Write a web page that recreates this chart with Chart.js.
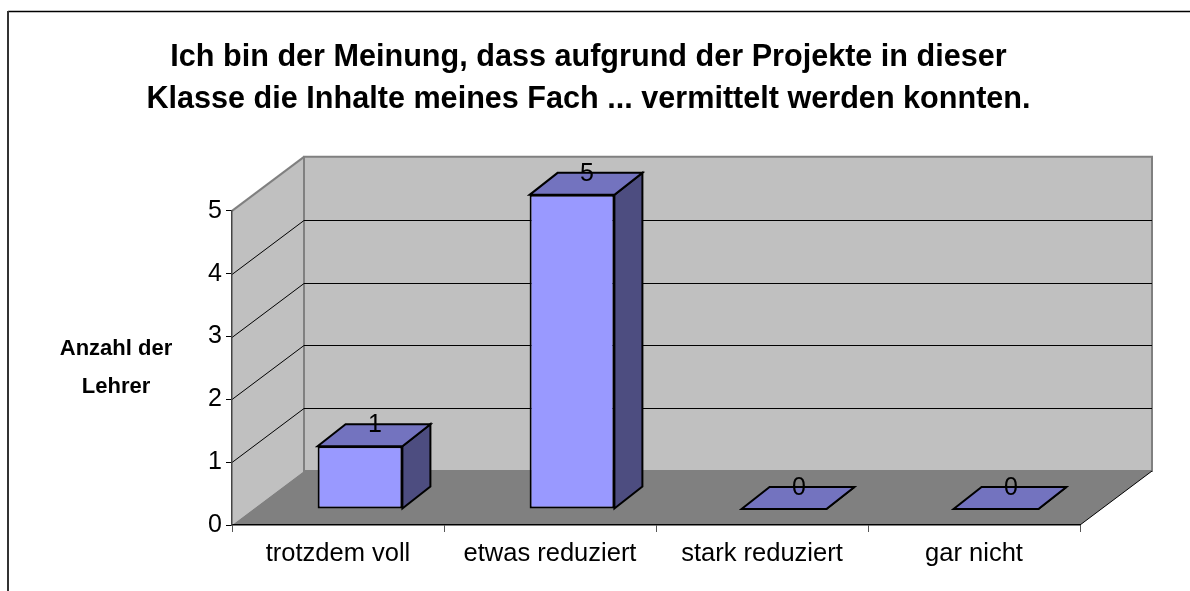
<!DOCTYPE html>
<html>
<head>
<meta charset="utf-8">
<title>Anzahl der Lehrer</title>
<script src="https://cdn.jsdelivr.net/npm/chart.js@4"></script>
<style>
  html, body { margin: 0; padding: 0; background: #fff; overflow: hidden; }
  canvas { display: block; }
</style>
</head>
<body>
<canvas id="chart" width="1190" height="591"></canvas>
<script>
const categories = ["trotzdem voll", "etwas reduziert", "stark reduziert", "gar nicht"];
const lehrer = [1, 5, 0, 0];
const yTicks = [0, 1, 2, 3, 4, 5];
const titleLines = [
  "Ich bin der Meinung, dass aufgrund der Projekte in dieser",
  "Klasse die Inhalte meines Fach ... vermittelt werden konnten."
];
const yTitleLines = ["Anzahl der", "Lehrer"];

const FONT = "'Liberation Sans', Arial, sans-serif";
// 3d look: how far the back wall and the bars sit behind the axis plane
const wallDepth = { x: 72, y: -54 };
const barOffset = { x: 22, y: -16 };
const barDepth = { x: 28, y: -22 };

function poly(ctx, pts, fill, stroke, lw) {
  ctx.beginPath();
  pts.forEach((p, i) => i ? ctx.lineTo(p[0], p[1]) : ctx.moveTo(p[0], p[1]));
  ctx.closePath();
  if (fill) { ctx.fillStyle = fill; ctx.fill(); }
  if (stroke) { ctx.strokeStyle = stroke; ctx.lineWidth = lw; ctx.stroke(); }
}

function line(ctx, x1, y1, x2, y2, color, lw) {
  ctx.beginPath();
  ctx.moveTo(x1, y1);
  ctx.lineTo(x2, y2);
  ctx.strokeStyle = color;
  ctx.lineWidth = lw;
  ctx.stroke();
}

const walls = {
  id: "walls",
  beforeDraw(chart) {
    const { ctx, chartArea: a, scales } = chart;
    const y = scales.y;
    const dx = wallDepth.x, dy = wallDepth.y;
    const y0 = y.getPixelForValue(yTicks[0]);
    const yMax = y.getPixelForValue(yTicks[yTicks.length - 1]);
    ctx.save();
    // outer frame, cut off at the right and bottom in the source
    line(ctx, 8, 11.5, 1190, 11.5, "#000", 1.5);
    line(ctx, 8, 11, 8, 591, "#333", 2);
    // left wall, back wall, floor
    poly(ctx, [[a.left, y0], [a.left + dx, y0 + dy], [a.left + dx, yMax + dy], [a.left, yMax]], "#c0c0c0");
    poly(ctx, [[a.left + dx, y0 + dy], [a.right + dx, y0 + dy], [a.right + dx, yMax + dy], [a.left + dx, yMax + dy]], "#c0c0c0", "#808080", 2);
    line(ctx, a.left, yMax, a.left + dx, yMax + dy, "#808080", 2);
    poly(ctx, [[a.left, y0], [a.right, y0], [a.right + dx, y0 + dy], [a.left + dx, y0 + dy]], "#808080");
    line(ctx, a.right, y0, a.right + dx, y0 + dy, "#000", 1);
    // gridlines bend round the corner of the walls
    yTicks.slice(1, -1).forEach(v => {
      const py = Math.round(y.getPixelForValue(v)) + 0.5;
      line(ctx, a.left, py, a.left + dx, py + dy, "#000", 1);
      line(ctx, a.left + dx, py + dy, a.right + dx, py + dy, "#000", 1);
    });
    ctx.restore();
  },
  beforeDatasetsDraw(chart) {
    const ctx = chart.ctx;
    const bd = barDepth;
    ctx.save();
    ctx.translate(barOffset.x, barOffset.y);
    ctx.lineJoin = "miter";
    chart.getDatasetMeta(0).data.forEach(bar => {
      const l = bar.x - bar.width / 2, r = bar.x + bar.width / 2;
      poly(ctx, [[r, bar.y], [r, bar.base], [r + bd.x, bar.base + bd.y], [r + bd.x, bar.y + bd.y]], "#4d4d80", "#000", 2);
      poly(ctx, [[l, bar.y], [r, bar.y], [r + bd.x, bar.y + bd.y], [l + bd.x, bar.y + bd.y]], "#7373bf", "#000", 2);
    });
  },
  afterDatasetsDraw(chart) {
    const ctx = chart.ctx;
    ctx.fillStyle = "#000";
    ctx.font = "25px " + FONT;
    ctx.textAlign = "center";
    ctx.textBaseline = "middle";
    chart.getDatasetMeta(0).data.forEach((bar, i) => {
      ctx.fillText(String(lehrer[i]), bar.x + 15, bar.y - 21);
    });
    ctx.restore();
    // axis title stays horizontal in the source
    ctx.save();
    ctx.fillStyle = "#000";
    ctx.font = "bold 22px " + FONT;
    ctx.textAlign = "center";
    ctx.textBaseline = "middle";
    yTitleLines.forEach((t, i) => ctx.fillText(t, 116, 349 + i * 38));
    ctx.restore();
  }
};

new Chart(document.getElementById("chart").getContext("2d"), {
  type: "bar",
  data: {
    labels: categories,
    datasets: [{
      data: lehrer,
      backgroundColor: "#9999ff",
      borderColor: "#000",
      borderWidth: 2,
      borderSkipped: false,
      barPercentage: 0.4,
      categoryPercentage: 1,
      clip: false
    }]
  },
  options: {
    responsive: false,
    animation: false,
    layout: { padding: { left: 97, right: 110, top: 0, bottom: 0 } },
    plugins: {
      legend: { display: false },
      tooltip: { enabled: false },
      title: {
        display: true,
        text: titleLines,
        color: "#000",
        font: { family: FONT, size: 30.6, weight: "bold", lineHeight: 1.37 },
        padding: { top: 37, bottom: 90 }
      }
    },
    scales: {
      x: {
        afterFit: s => { s.height = 66; },
        border: { color: "#000", width: 1.5 },
        grid: { drawOnChartArea: false, drawTicks: true, tickLength: 7, color: "#555" },
        ticks: { color: "#000", font: { family: FONT, size: 25.5 }, padding: 7, maxRotation: 0 }
      },
      y: {
        min: 0,
        max: 5,
        afterFit: s => { s.width = 135; },
        border: { color: "#444", width: 1.5 },
        grid: { drawOnChartArea: false, drawTicks: true, tickLength: 6, color: "#000" },
        ticks: { color: "#000", stepSize: 1, font: { family: FONT, size: 25 }, padding: 4 }
      }
    }
  },
  plugins: [walls]
});
</script>
</body>
</html>
